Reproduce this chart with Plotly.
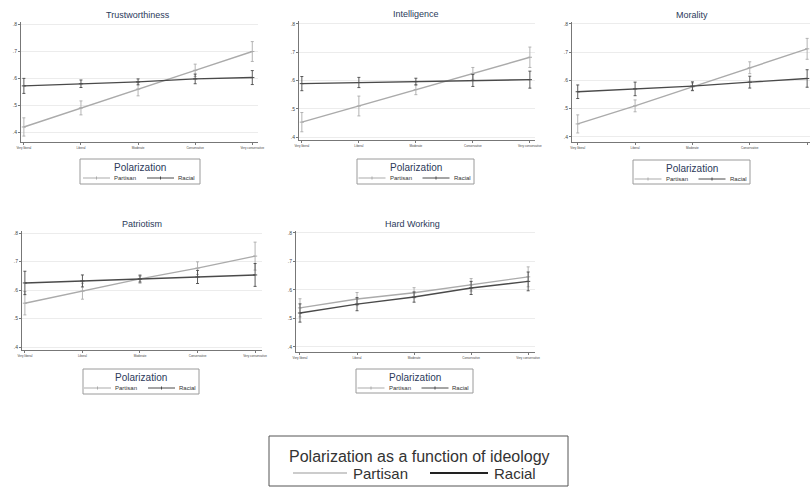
import plotly.graph_objects as go

W, H = 812, 487

ideology = ["Very liberal", "Liberal", "Moderate", "Conservative", "Very conservative"]
x_pos = [0, 1, 2, 3, 4]
y_ticks = [0.4, 0.5, 0.6, 0.7, 0.8]
y_tick_labels = [".4", ".5", ".6", ".7", ".8"]

titles = ["Trustworthiness", "Intelligence", "Morality", "Patriotism", "Hard Working"]
series_names = ["Partisan", "Racial"]
panel_legend_title = "Polarization"
overall_legend_title = "Polarization as a function of ideology"

partisan = [
    [0.419, 0.490, 0.560, 0.630, 0.700],
    [0.453, 0.510, 0.568, 0.625, 0.682],
    [0.446, 0.510, 0.577, 0.645, 0.712],
    [0.554, 0.596, 0.639, 0.677, 0.719],
    [0.537, 0.568, 0.590, 0.618, 0.646],
]
partisan_err = [
    [0.034, 0.026, 0.025, 0.023, 0.037],
    [0.034, 0.035, 0.018, 0.021, 0.036],
    [0.032, 0.021, 0.014, 0.021, 0.037],
    [0.041, 0.028, 0.015, 0.022, 0.049],
    [0.032, 0.023, 0.018, 0.022, 0.035],
]
racial = [
    [0.572, 0.580, 0.587, 0.598, 0.603],
    [0.589, 0.593, 0.596, 0.600, 0.603],
    [0.560, 0.570, 0.580, 0.594, 0.607],
    [0.625, 0.632, 0.639, 0.646, 0.653],
    [0.519, 0.550, 0.575, 0.607, 0.630],
]
racial_err = [
    [0.028, 0.014, 0.011, 0.018, 0.026],
    [0.025, 0.018, 0.012, 0.021, 0.030],
    [0.024, 0.024, 0.015, 0.021, 0.031],
    [0.041, 0.021, 0.011, 0.023, 0.040],
    [0.032, 0.023, 0.018, 0.023, 0.033],
]

# panel boxes in pixels: (x0, x1, y0, y1)
boxes = [(21, 258, 22, 142), (299, 535, 21, 140), (572, 810, 22, 142),
         (22, 262, 231, 350), (296, 535, 231, 352)]
xranges = [[-0.05, 4.1], [-0.05, 4.09], [-0.1, 4.05], [-0.05, 4.12], [-0.07, 4.12]]
yranges = [[0.363, 0.81], [0.39, 0.81], [0.382, 0.807], [0.39, 0.807], [0.382, 0.807]]
title_pos = [(138, 15), (416, 14), (692, 15), (142, 224), (413, 224)]
# legend boxes: (x0, x1, y0, y1) in px
legend_boxes = [(80, 200, 159, 184), (357, 474, 159, 184), (633, 750, 160, 184),
                (83, 199, 369, 394), (356, 473, 369, 393)]

P_COL = "#ababab"
R_COL = "#4a4a4a"
T_COL = "#2b3a5a"


def px(x):
    return x / W


def py(y):
    return 1 - y / H


fig = go.Figure()
annotations = []
shapes = []
layout = {}
for i in range(5):
    n = "" if i == 0 else str(i + 1)
    for name, ys, es, col in [(series_names[0], partisan[i], partisan_err[i], P_COL),
                              (series_names[1], racial[i], racial_err[i], R_COL)]:
        fig.add_trace(go.Scatter(
            x=x_pos, y=ys, name=name, mode="lines+markers", cliponaxis=False,
            line=dict(color=col, width=1.4),
            marker=dict(color=col, size=3, symbol="line-ew-open", line=dict(width=1, color=col)),
            error_y=dict(type="data", array=es, color=col, thickness=0.9, width=1.5),
            xaxis="x" + n, yaxis="y" + n, showlegend=False, hoverinfo="skip",
        ))
    x0, x1, y0, y1 = boxes[i]
    layout["xaxis" + n] = dict(
        domain=[px(x0), px(x1)], range=xranges[i], anchor="y" + n,
        tickvals=x_pos, ticktext=ideology, tickfont=dict(size=3, color="#444"),
        ticks="outside", ticklen=2, tickcolor="#777", showgrid=False, zeroline=False,
        showline=True, linecolor="#777", linewidth=1, automargin=False, fixedrange=True,
    )
    layout["yaxis" + n] = dict(
        domain=[py(y1), py(y0)], range=yranges[i], anchor="x" + n,
        tickvals=y_ticks, ticktext=y_tick_labels, tickfont=dict(size=5, color="#444"),
        ticks="outside", ticklen=2, tickcolor="#777", showgrid=True, gridcolor="#ececec",
        gridwidth=1, zeroline=False, showline=True, linecolor="#777", linewidth=1,
        automargin=False, fixedrange=True,
    )
    tx, ty = title_pos[i]
    annotations.append(dict(text=titles[i], x=px(tx), y=py(ty), xref="paper", yref="paper",
                            xanchor="center", yanchor="middle",
                            showarrow=False, font=dict(size=9, color=T_COL)))
    # panel legend (drawn as box + samples + text)
    lx0, lx1, ly0, ly1 = legend_boxes[i]
    shapes.append(dict(type="rect", xref="paper", yref="paper",
                       x0=px(lx0), x1=px(lx1), y0=py(ly1), y1=py(ly0),
                       line=dict(color="#9a9a9a", width=1), fillcolor="white"))
    cx = (lx0 + lx1) / 2
    annotations.append(dict(text=panel_legend_title, x=px(cx), y=py(ly0 + 8.5), xref="paper",
                            yref="paper", xanchor="center", yanchor="middle", showarrow=False,
                            font=dict(size=10, color=T_COL)))
    row_y = ly0 + 19
    for k, (name, col) in enumerate([(series_names[0], P_COL), (series_names[1], R_COL)]):
        sx0 = cx - 57 + k * 64
        sx1 = sx0 + 27
        shapes.append(dict(type="line", xref="paper", yref="paper",
                           x0=px(sx0), x1=px(sx1), y0=py(row_y), y1=py(row_y),
                           line=dict(color=col, width=1)))
        shapes.append(dict(type="line", xref="paper", yref="paper",
                           x0=px((sx0 + sx1) / 2), x1=px((sx0 + sx1) / 2),
                           y0=py(row_y - 1.5), y1=py(row_y + 1.5),
                           line=dict(color=col, width=1)))
        annotations.append(dict(text=name, x=px(sx1 + 2), y=py(row_y), xref="paper", yref="paper",
                                xanchor="left", yanchor="middle", showarrow=False,
                                font=dict(size=6, color="#333")))

# overall legend
shapes.append(dict(type="rect", xref="paper", yref="paper",
                   x0=px(269), x1=px(568), y0=py(486), y1=py(436),
                   line=dict(color="#555", width=1), fillcolor="white"))
annotations.append(dict(text=overall_legend_title, x=px(419), y=py(456), xref="paper",
                        yref="paper", xanchor="center", yanchor="middle", showarrow=False,
                        font=dict(size=16, color="#333")))
for (name, col, wd, lx0, lx1) in [(series_names[0], "#9a9a9a", 1.2, 293, 347),
                                   (series_names[1], "#222222", 2, 430, 488)]:
    shapes.append(dict(type="line", xref="paper", yref="paper",
                       x0=px(lx0), x1=px(lx1), y0=py(473), y1=py(473),
                       line=dict(color=col, width=wd)))
    annotations.append(dict(text=name, x=px(lx1 + 4), y=py(473), xref="paper", yref="paper",
                            xanchor="left", yanchor="middle", showarrow=False,
                            font=dict(size=15, color="#333")))

fig.update_layout(
    width=W, height=H, margin=dict(l=0, r=0, t=0, b=0, autoexpand=False),
    paper_bgcolor="white", plot_bgcolor="white", showlegend=False, hovermode=False,
    font=dict(family="Arial, Liberation Sans, sans-serif"),
    annotations=annotations, shapes=shapes, **layout,
)
fig.write_html("out.html", config={"displayModeBar": False, "staticPlot": True},
               post_script="document.body.style.margin='0';document.body.style.overflow='hidden';")
